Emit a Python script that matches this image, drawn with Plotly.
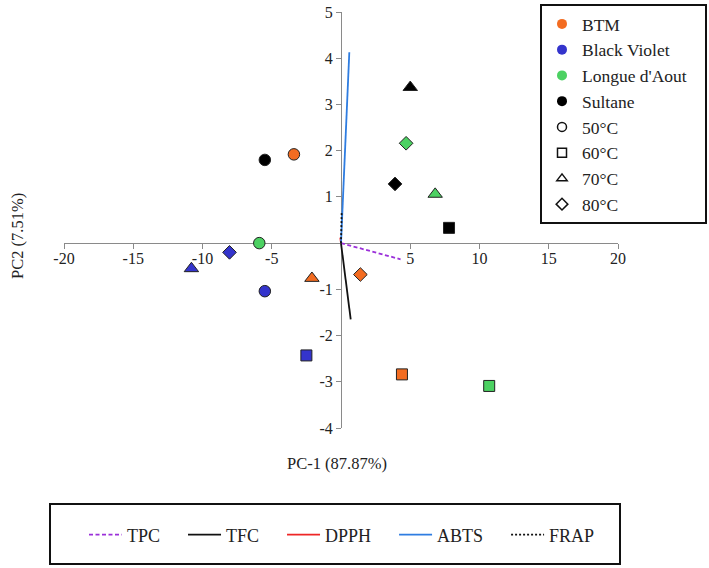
import plotly.graph_objects as go

# ---------------- data ----------------
cultivars = ["BTM", "Black Violet", "Longue d'Aout", "Sultane"]
cultivar_colors = ["#F36C21", "#3434CC", "#4CD162", "#000000"]
temps = ["50°C", "60°C", "70°C", "80°C"]
temp_symbols = ["circle", "square", "triangle-up", "diamond"]

# scores, order of temperatures: 50, 60, 70, 80 °C
pc1_btm = [-3.4, 4.4, -2.1, 1.4]
pc2_btm = [1.92, -2.84, -0.76, -0.68]
pc1_bv = [-5.5, -2.5, -10.8, -8.05]
pc2_bv = [-1.04, -2.43, -0.55, -0.2]
pc1_la = [-5.9, 10.7, 6.8, 4.7]
pc2_la = [0.0, -3.09, 1.06, 2.16]
pc1_su = [-5.5, 7.8, 5.0, 3.9]
pc2_su = [1.8, 0.33, 3.37, 1.28]

scores_pc1 = [pc1_btm, pc1_bv, pc1_la, pc1_su]
scores_pc2 = [pc2_btm, pc2_bv, pc2_la, pc2_su]

# loadings
variables = ["TPC", "TFC", "DPPH", "ABTS", "FRAP"]
load_pc1 = [4.3, 0.7, -0.05, 0.6, 0.05]
load_pc2 = [-0.35, -1.65, 0.12, 4.13, 0.68]
load_colors = ["#9B30D9", "#111111", "#EE2626", "#2F7DE1", "#111111"]
load_dash = ["4px,2.5px", "solid", "solid", "solid", "2px,2px"]

x_ticks = [-20, -15, -10, -5, 5, 10, 15, 20]
x_ticklabels = ["-20", "-15", "-10", "-5", "5", "10", "15", "20"]
y_ticks = [-4, -3, -2, -1, 1, 2, 3, 4, 5]
y_ticklabels = ["-4", "-3", "-2", "-1", "1", "2", "3", "4", "5"]
x_range = [-20, 20]
y_range = [-4, 5]
x_title = "PC-1 (87.87%)"
y_title = "PC2 (7.51%)"

# ---------------- figure ----------------
FONT = "Liberation Serif, Times New Roman, serif"
fig = go.Figure()

# loadings (legend2)
for name, lx, ly, col, dash in zip(variables, load_pc1, load_pc2, load_colors, load_dash):
    fig.add_trace(go.Scatter(
        x=[0, lx], y=[0, ly], mode="lines",
        line=dict(color=col, width=1.8, dash=dash),
        name=name + "\u00a0" * 4, legend="legend2", hoverinfo="skip",
    ))

# scores
symbol_size = {"circle": 11.5, "square": 11, "triangle-up": 12.5, "diamond": 10.5}
for cname, col, xs, ys in zip(cultivars, cultivar_colors, scores_pc1, scores_pc2):
    fig.add_trace(go.Scatter(
        x=xs, y=ys, mode="markers", showlegend=False, name=cname,
        text=temps, cliponaxis=False,
        marker=dict(color=col, symbol=temp_symbols, opacity=1,
                    size=[symbol_size[s] for s in temp_symbols],
                    line=dict(color="#222222", width=1)),
    ))

# legend entries for cultivars (colours)
for cname, col in zip(cultivars, cultivar_colors):
    label = cname + ("\u00a0\u00a0\u00a0" if cname == "Longue d'Aout" else "")
    fig.add_trace(go.Scatter(
        x=[None], y=[None], mode="markers", name=label, legend="legend",
        marker=dict(color=col, symbol="circle", size=10, line=dict(width=0)),
    ))
# legend entries for temperatures (shapes)
for t, s in zip(temps, temp_symbols):
    fig.add_trace(go.Scatter(
        x=[None], y=[None], mode="markers", name=t, legend="legend",
        marker=dict(color="white", symbol=s, size=9,
                    line=dict(color="#111111", width=1.5)),
    ))

L, R, T, B = 64, 91, 12, 140
W, H = 709, 568
pw, ph = W - L - R, H - T - B


def px_x(px):
    return (px - L) / pw


def px_y(py):
    return (H - B - py) / ph


axis_common = dict(
    showgrid=False, zeroline=False, showline=True, linecolor="#8A8A8A", linewidth=1,
    ticks="outside", ticklen=5, tickcolor="#8A8A8A", tickwidth=1,
    tickfont=dict(family=FONT, size=16, color="#222222"),
    anchor="free", layer="below traces",
)

fig.update_layout(
    width=W, height=H,
    margin=dict(l=L, r=R, t=T, b=B, pad=0, autoexpand=False),
    paper_bgcolor="white", plot_bgcolor="white",
    font=dict(family=FONT, size=18, color="#222222"),
    xaxis=dict(range=x_range, tickmode="array", tickvals=x_ticks, ticktext=x_ticklabels,
               ticklabelstandoff=-4,
               position=(0 - y_range[0]) / (y_range[1] - y_range[0]), **axis_common),
    yaxis=dict(range=y_range, tickmode="array", tickvals=y_ticks, ticktext=y_ticklabels,
               position=(0 - x_range[0]) / (x_range[1] - x_range[0]), **axis_common),
    legend=dict(
        x=px_x(540), y=px_y(4), xanchor="left", yanchor="top",
        bordercolor="#111111", borderwidth=2, bgcolor="white",
        font=dict(family=FONT, size=17.5, color="#222222"),
        traceorder="normal",
    ),
    legend2=dict(
        orientation="h", x=px_x(84), y=px_y(535), xanchor="left", yanchor="middle",
        borderwidth=0, bgcolor="rgba(0,0,0,0)", itemwidth=33,
        font=dict(family=FONT, size=18, color="#222222"),
        traceorder="normal",
    ),
    showlegend=True,
    shapes=[dict(type="rect", xref="paper", yref="paper",
                 x0=px_x(50), x1=px_x(620), y0=px_y(564), y1=px_y(504),
                 line=dict(color="#111111", width=2))],
    annotations=[
        dict(text=x_title, xref="paper", yref="paper", x=px_x(337), y=px_y(464),
             showarrow=False, font=dict(family=FONT, size=16.5, color="#222222"),
             xanchor="center", yanchor="middle"),
        dict(text=y_title, xref="paper", yref="paper", x=px_x(17), y=px_y(236),
             showarrow=False, textangle=-90, font=dict(family=FONT, size=16.5, color="#222222"),
             xanchor="center", yanchor="middle"),
    ],
)

fig.write_html("out.html")
